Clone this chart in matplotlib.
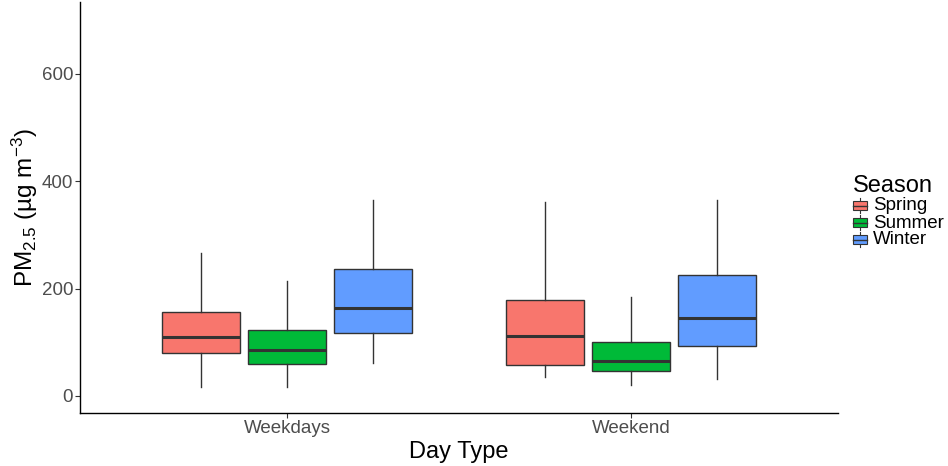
import matplotlib.pyplot as plt
from matplotlib.patches import Patch, Rectangle
from matplotlib.lines import Line2D
from matplotlib.legend_handler import HandlerBase

plt.rcParams['font.family'] = ['Liberation Sans', 'DejaVu Sans']
plt.rcParams['mathtext.default'] = 'regular'

# day types and seasons
day_types = ["Weekdays", "Weekend"]
seasons = ["Spring", "Summer", "Winter"]
colors = ["#F8766D", "#00BA38", "#619CFF"]

# box stats: [low whisker, q1, median, q3, high whisker]
weekdays = {
    "Spring": [17, 81, 110, 156, 266],
    "Summer": [16, 59, 85, 122, 215],
    "Winter": [61, 117, 163, 237, 365],
}
weekend = {
    "Spring": [35, 57, 112, 179, 361],
    "Summer": [20, 46, 66, 101, 185],
    "Winter": [32, 94, 145, 226, 365],
}
data = [weekdays, weekend]


# legend key that looks like a tiny boxplot
class BoxKey(HandlerBase):
    def create_artists(self, legend, orig, xd, yd, w, h, fs, trans):
        cx = xd + w / 2
        line = Line2D([cx, cx], [yd - 0.15 * h, yd + 1.15 * h], color="#333333",
                      linewidth=0.8, transform=trans)
        box = Rectangle((xd, yd + 0.1 * h), w, 0.8 * h, facecolor=orig.get_facecolor(),
                        edgecolor="#333333", linewidth=0.8, transform=trans)
        mid = Line2D([xd, xd + w], [yd + h / 2, yd + h / 2], color="#333333",
                     linewidth=1.0, transform=trans)
        return [line, box, mid]


fig = plt.figure(figsize=(9.48, 4.66), dpi=100)
ax = fig.add_axes([80 / 948, 53 / 466, 758 / 948, 411 / 466])

offsets = [-0.25, 0, 0.25]
for i, d in enumerate(data):
    for j, s in enumerate(seasons):
        lo, q1, med, q3, hi = d[s]
        st = [{"whislo": lo, "q1": q1, "med": med, "q3": q3, "whishi": hi, "fliers": []}]
        ax.bxp(st, positions=[i + 1 + offsets[j]], widths=0.226, patch_artist=True,
               showcaps=False,
               boxprops=dict(facecolor=colors[j], edgecolor="#333333", linewidth=1.0),
               whiskerprops=dict(color="#333333", linewidth=1.0),
               medianprops=dict(color="#333333", linewidth=2.2))

ax.set_xlim(0.398, 2.602)
ax.set_ylim(-31.7, 734)
ax.set_xticks([1, 2])
ax.set_xticklabels(day_types)
ax.set_yticks([0, 200, 400, 600])
ax.tick_params(axis="both", labelsize=13.5, labelcolor="#4D4D4D", color="#333333",
               length=3.5, width=0.8, pad=1.5)
for sp in ["top", "right"]:
    ax.spines[sp].set_visible(False)
for sp in ["left", "bottom"]:
    ax.spines[sp].set_linewidth(1.0)

ax.set_xlabel("Day Type", fontsize=17, labelpad=3)
ax.set_ylabel("PM$_{2.5}$ (µg m$^{-3}$)", fontsize=17.5, labelpad=1)

handles = [Patch(facecolor=c) for c in colors]
fig.legend(handles, seasons, title="Season", loc="center left",
           bbox_to_anchor=(853 / 948, 254 / 466), frameon=False, fontsize=13.5,
           title_fontsize=17, handlelength=0.75, handleheight=0.55, handletextpad=0.3,
           labelspacing=0.0, borderaxespad=0, borderpad=0, alignment="left",
           handler_map={Patch: BoxKey()})

fig.savefig("out.png", dpi=100)
